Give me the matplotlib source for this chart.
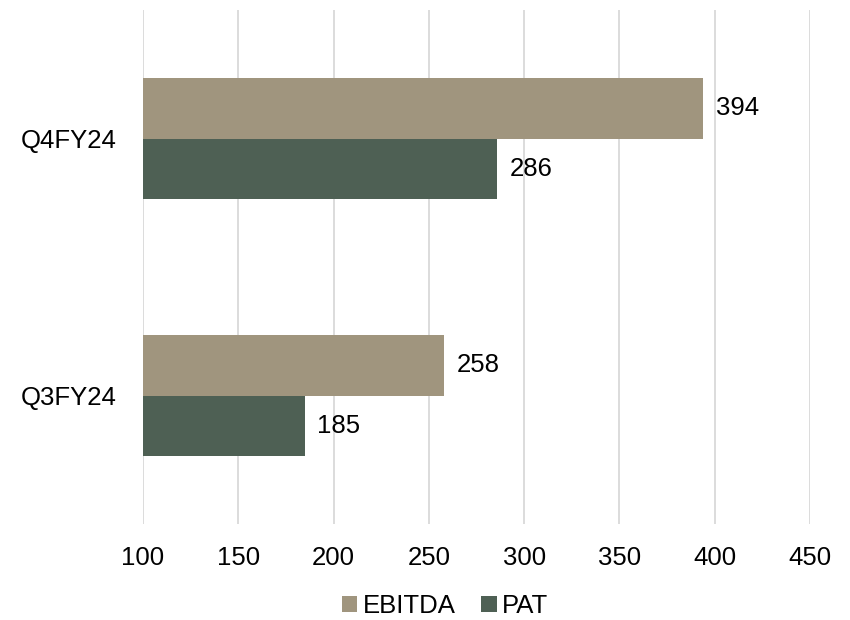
import matplotlib
matplotlib.use("Agg")
import matplotlib.pyplot as plt
import numpy as np

plt.rcParams['font.family'] = ['Liberation Sans', 'DejaVu Sans']

categories = ["Q3FY24", "Q4FY24"]
ebitda = [258, 394]
pat = [185, 286]
x_ticks = [100, 150, 200, 250, 300, 350, 400, 450]

col_ebitda = "#A0957E"
col_pat = "#4E6054"

fig = plt.figure(figsize=(8.5, 6.2), dpi=100)
ax = fig.add_axes([143 / 850, 1 - 524 / 620, (810 - 143) / 850, (524 - 10) / 620])

y = np.arange(len(categories))
h = 0.237
base = 100
ax.barh(y + h / 2, np.array(ebitda) - base, height=h, left=base, color=col_ebitda,
        label="EBITDA", zorder=3)
ax.barh(y - h / 2, np.array(pat) - base, height=h, left=base, color=col_pat,
        label="PAT", zorder=3)

for yi, v in zip(y + h / 2, ebitda):
    ax.annotate(str(v), (v, yi), xytext=(9, 0), textcoords="offset points",
                va="center", ha="left", fontsize=18.5)
for yi, v in zip(y - h / 2, pat):
    ax.annotate(str(v), (v, yi), xytext=(9, 0), textcoords="offset points",
                va="center", ha="left", fontsize=18.5)

ax.set_xlim(100, 450)
ax.set_ylim(-0.5, 1.5)
ax.set_xticks(x_ticks)
ax.set_xticklabels([str(t) for t in x_ticks], fontsize=18.5)
ax.set_yticks(y)
ax.set_yticklabels(categories, fontsize=18.5)
ax.tick_params(axis="both", length=0)
ax.tick_params(axis="x", pad=15.5)
ax.tick_params(axis="y", pad=19)
ax.grid(axis="x", color="#D9D9D9", linewidth=1.3, zorder=0)
for s in ax.spines.values():
    s.set_visible(False)

fig.legend(loc="center", bbox_to_anchor=(445 / 850, 1 - 606 / 620), ncol=2,
           frameon=False, fontsize=18.5, handlelength=0.6, handleheight=0.6,
           handletextpad=0.2, columnspacing=1.0)

fig.savefig("out.png", dpi=100)
